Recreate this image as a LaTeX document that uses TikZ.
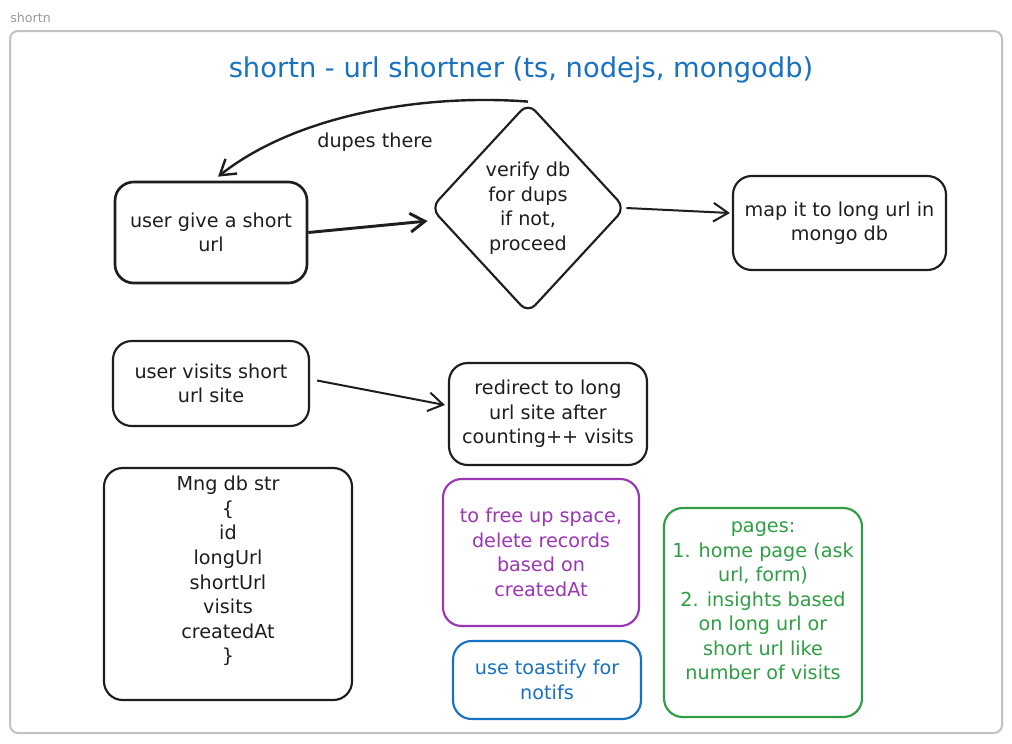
\documentclass[tikz,border=0pt]{standalone}
\usepackage{fontspec}
\setmainfont{DejaVu Sans}
\usetikzlibrary{arrows.meta,shapes.geometric,calc}
\definecolor{ink}{HTML}{1E1E1E}
\definecolor{framegray}{HTML}{C2C2C2}
\definecolor{labelgray}{HTML}{9A9A9A}
\definecolor{xblue}{HTML}{1971C2}
\definecolor{xpurple}{HTML}{9C36B5}
\definecolor{xgreen}{HTML}{2F9E44}
\begin{document}
\begin{tikzpicture}[x=0.75pt,y=-0.75pt,
  hand/.style={font=\fontsize{14.4}{18.4}\selectfont},
  box/.style={draw=ink, line width=1.6pt, rounded corners=14pt, align=center, hand, text=ink, inner sep=0pt},
  txt/.style={align=center, hand, inner sep=0pt},
  conn/.style={draw=ink, line width=1.5pt, -{Straight Barb[length=11pt,width=14pt]}}]
\useasboundingbox (0,0) rectangle (1012,743);
\fill[white] (0,0) rectangle (1012,743);
\node[anchor=west, text=labelgray, font=\fontsize{9.5}{11}\selectfont, inner sep=0] (flabel) at (10,18) {shortn};
\node[draw=framegray, line width=1.5pt, rounded corners=6pt, minimum width=744pt, minimum height=526.5pt, inner sep=0] (frame) at (506,382) {};
\node[text=xblue, font=\fontsize{20.5}{24}\selectfont, inner sep=0] (title) at (521,70) {shortn - url shortner (ts, nodejs, mongodb)};

\node[box, line width=2pt, minimum width=144pt, minimum height=75.75pt] (a) at (211,232.5) {user give a short\\url};
\node[diamond, draw=ink, line width=1.6pt, rounded corners=8pt, aspect=0.923, minimum width=146pt, minimum height=158pt, inner sep=0pt, align=center, hand, text=ink] (dia) at (528,208) {verify db\\for dups\\if not,\\proceed};
\node[box, minimum width=159.75pt, minimum height=70.5pt] (c) at (839.5,223) {map it to long url in\\mongo db};

\node[box, minimum width=147pt, minimum height=63.75pt] (d) at (211,383.5) {user visits short\\url site};
\node[box, minimum width=148.5pt, minimum height=76.5pt] (e) at (548,414) {redirect to long\\url site after\\counting++ visits};

\node[box, minimum width=186pt, minimum height=174pt] (f) at (228,584) {};
\node[txt, text=ink] (ftext) at (228,571) {Mng db str\\\{\\id\\longUrl\\shortUrl\\visits\\createdAt\\\}};

\node[box, draw=xpurple, text=xpurple, minimum width=147pt, minimum height=110.25pt] (g) at (541,552.5) {to free up space,\\delete records\\based on\\createdAt};
\node[box, draw=xblue, text=xblue, minimum width=141pt, minimum height=58.5pt] (h) at (547,680) {use toastify for\\notifs};
\node[box, draw=xgreen, minimum width=148.5pt, minimum height=156.75pt] (i) at (763,612.5) {};
\node[txt, text=xgreen] (itext) at (763,601) {pages:\\1. home page (ask\\url, form)\\2. insights based\\on long url or\\short url like\\number of visits};

\draw[conn, line width=2.2pt] (a.east) -- ($(dia.west)+(-2,13)$);
\draw[conn] (dia.east) -- ($(c.west)+(-2,-10)$);
\draw[conn, line width=1.8pt] (dia.north) .. controls (430,94) and (300,112) .. ($(a.north)+(7,-4)$);
\node[txt, text=ink] (dupeslbl) at (375,142) {dupes there};
\draw[conn] ($(d.east)+(7,-3)$) -- ($(e.west)+(-3,-9)$);
\end{tikzpicture}
\end{document}
